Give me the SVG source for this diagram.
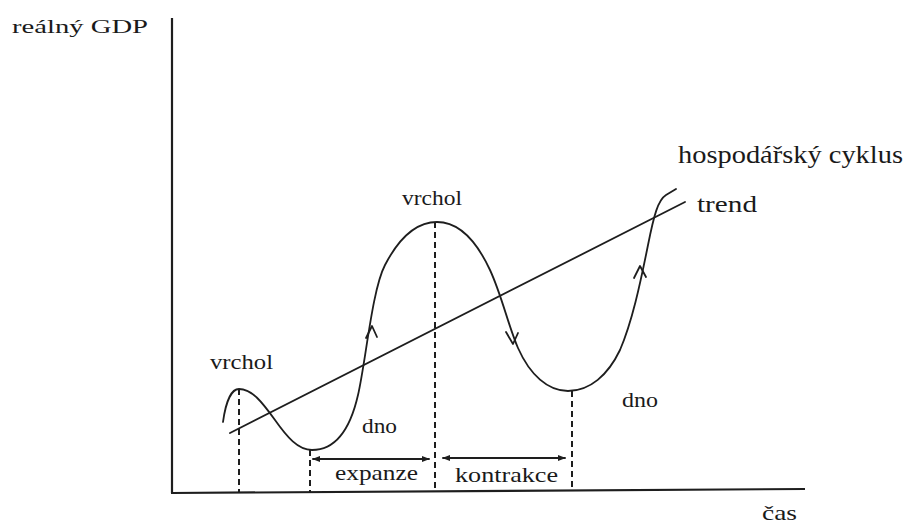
<svg xmlns="http://www.w3.org/2000/svg" width="914" height="524" viewBox="0 0 914 524">
<defs>
<style>
.ln{fill:none;stroke:#1e1e1e;stroke-width:1.8;stroke-linecap:round;stroke-linejoin:round}
.ax{fill:none;stroke:#1e1e1e;stroke-width:2.2}
.dash{fill:none;stroke:#1e1e1e;stroke-width:2;stroke-dasharray:6 4}
.t{font-family:"Liberation Serif","Times New Roman",serif;fill:#1a1a1a}
</style>
<marker id="ah" viewBox="0 0 10 10" refX="9" refY="5" markerWidth="8" markerHeight="8" orient="auto-start-reverse" markerUnits="userSpaceOnUse">
<path d="M0,1 L10,5 L0,9 Z" fill="#1e1e1e"/>
</marker>
</defs>
<rect width="914" height="524" fill="#ffffff"/>
<g id="axes">
<line class="ax" x1="172" y1="18" x2="172" y2="493"/>
<line class="ax" x1="171" y1="493" x2="805" y2="489"/>
</g>
<g id="connectors">
<line class="dash" x1="239" y1="389" x2="239" y2="493"/>
<line class="dash" x1="310" y1="450" x2="310" y2="493"/>
<line class="dash" x1="435" y1="222" x2="435" y2="492"/>
<line class="dash" x1="572" y1="391" x2="572" y2="491"/>
<line class="ln" x1="313" y1="459" x2="429" y2="459" marker-start="url(#ah)" marker-end="url(#ah)"/>
<line class="ln" x1="443" y1="458" x2="565" y2="458" marker-start="url(#ah)" marker-end="url(#ah)"/>
</g>
<g id="trend">
<line class="ln" x1="230" y1="433" x2="685" y2="202"/>
</g>
<g id="cycle">
<path class="ln" d="M223,422 C226,400 232,389 239,389 C252,389 262,402 275,420 C287,437 298,450 312,450 C335,450 350,430 358,395 C366,360 372,290 385,265 C398,240 415,222 437,222 C459,222 476,240 490,270 C502,296 508,325 518,348 C530,375 548,391 568,391 C590,391 608,375 620,350 C632,322 640,285 648,245 C654,215 658,200 666,195 L676,189"/>
<path class="ln" d="M366,338 L372,326 L377,337"/>
<path class="ln" d="M506,332 L513,344 L518,333"/>
<path class="ln" d="M634,278 L640,266 L646,277"/>
</g>
<g id="labels">
<text class="t" x="12" y="33" font-size="19" textLength="136" lengthAdjust="spacingAndGlyphs">reálný GDP</text>
<text class="t" x="678" y="163" font-size="26" textLength="225" lengthAdjust="spacingAndGlyphs">hospodářský cyklus</text>
<text class="t" x="697" y="212" font-size="24" textLength="60" lengthAdjust="spacingAndGlyphs">trend</text>
<text class="t" x="402" y="205" font-size="22" textLength="60" lengthAdjust="spacingAndGlyphs">vrchol</text>
<text class="t" x="210" y="369" font-size="22" textLength="63" lengthAdjust="spacingAndGlyphs">vrchol</text>
<text class="t" x="362" y="433" font-size="22" textLength="35" lengthAdjust="spacingAndGlyphs">dno</text>
<text class="t" x="622" y="407" font-size="22" textLength="36" lengthAdjust="spacingAndGlyphs">dno</text>
<text class="t" x="335" y="480" font-size="22" textLength="83" lengthAdjust="spacingAndGlyphs">expanze</text>
<text class="t" x="455" y="482" font-size="22" textLength="103" lengthAdjust="spacingAndGlyphs">kontrakce</text>
<text class="t" x="762" y="520" font-size="22" textLength="35" lengthAdjust="spacingAndGlyphs">čas</text>
</g>
</svg>
